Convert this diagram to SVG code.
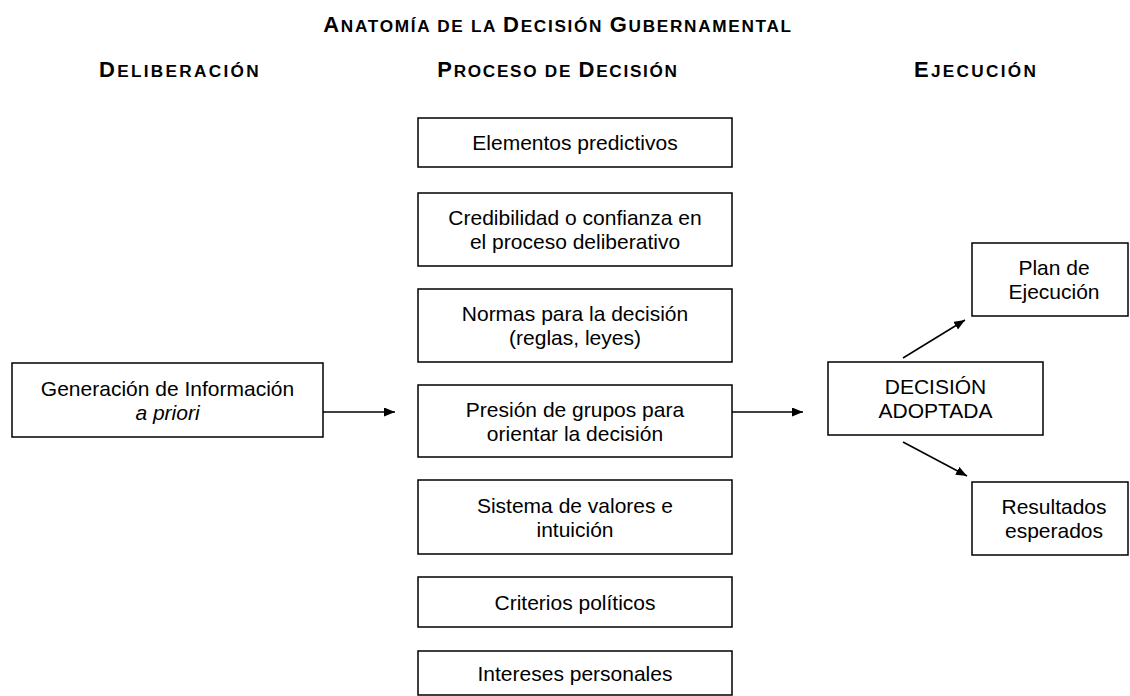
<svg xmlns="http://www.w3.org/2000/svg" width="1130" height="696" viewBox="0 0 1130 696">
<style>
.box{fill:#fff;stroke:#000;stroke-width:1.5}
.t{font-family:"Liberation Sans",Arial,sans-serif;font-size:21px;fill:#000;text-anchor:middle}
.h{font-family:"Liberation Sans",Arial,sans-serif;font-weight:bold;font-size:22px;fill:#000;text-anchor:middle}
.sc{font-size:17.2px}
.c{stroke:#000;stroke-width:1.5;fill:none}
</style>
<defs>
<marker id="ah" markerUnits="userSpaceOnUse" markerWidth="12" markerHeight="10" refX="11" refY="4.5" orient="auto">
<path d="M0,0 L11,4.5 L0,9 z" fill="#000"/>
</marker>
</defs>
<rect width="1130" height="696" fill="#fff"/>
<g id="titles">
<text class="h" x="558" y="32" letter-spacing="1.7">A<tspan class="sc">NATOMÍA DE LA </tspan>D<tspan class="sc">ECISIÓN </tspan>G<tspan class="sc">UBERNAMENTAL</tspan></text>
<text class="h" x="180" y="77" letter-spacing="2.3">D<tspan class="sc">ELIBERACIÓN</tspan></text>
<text class="h" x="558" y="77" letter-spacing="1.7">P<tspan class="sc">ROCESO DE </tspan>D<tspan class="sc">ECISIÓN</tspan></text>
<text class="h" x="976" y="77" letter-spacing="2.3">E<tspan class="sc">JECUCIÓN</tspan></text>
</g>
<g id="n-generacion">
<rect class="box" x="12" y="363" width="311" height="74"/>
<text class="t" x="167.5" y="395.5">Generación de Información</text>
<text class="t" x="167.5" y="419.5" font-style="italic">a priori</text>
</g>
<g id="n-elementos">
<rect class="box" x="418" y="118" width="314" height="49"/>
<text class="t" x="575" y="150">Elementos predictivos</text>
</g>
<g id="n-credibilidad">
<rect class="box" x="418" y="193" width="314" height="73"/>
<text class="t" x="575" y="225">Credibilidad o confianza en</text>
<text class="t" x="575" y="249">el proceso deliberativo</text>
</g>
<g id="n-normas">
<rect class="box" x="418" y="289" width="314" height="73"/>
<text class="t" x="575" y="321">Normas para la decisión</text>
<text class="t" x="575" y="345">(reglas, leyes)</text>
</g>
<g id="n-presion">
<rect class="box" x="418" y="385" width="314" height="72"/>
<text class="t" x="575" y="416.5">Presión de grupos para</text>
<text class="t" x="575" y="440.5">orientar la decisión</text>
</g>
<g id="n-sistema">
<rect class="box" x="418" y="480" width="314" height="74"/>
<text class="t" x="575" y="512.5">Sistema de valores e</text>
<text class="t" x="575" y="536.5">intuición</text>
</g>
<g id="n-criterios">
<rect class="box" x="418" y="577" width="314" height="50"/>
<text class="t" x="575" y="609.5">Criterios políticos</text>
</g>
<g id="n-intereses">
<rect class="box" x="418" y="651" width="314" height="44"/>
<text class="t" x="575" y="681">Intereses personales</text>
</g>
<g id="n-decision">
<rect class="box" x="828" y="362" width="215" height="73"/>
<text class="t" x="935.5" y="394">DECISIÓN</text>
<text class="t" x="935.5" y="418">ADOPTADA</text>
</g>
<g id="n-plan">
<rect class="box" x="972" y="243" width="156" height="73"/>
<text class="t" x="1054" y="275">Plan de</text>
<text class="t" x="1054" y="299">Ejecución</text>
</g>
<g id="n-resultados">
<rect class="box" x="972" y="482" width="156" height="73"/>
<text class="t" x="1054" y="514">Resultados</text>
<text class="t" x="1054" y="538">esperados</text>
</g>
<g id="connectors">
<line class="c" x1="323" y1="412" x2="395" y2="412" marker-end="url(#ah)"/>
<line class="c" x1="732" y1="412" x2="803" y2="412" marker-end="url(#ah)"/>
<line class="c" x1="903" y1="358" x2="965" y2="320" marker-end="url(#ah)"/>
<line class="c" x1="903" y1="442" x2="967" y2="476" marker-end="url(#ah)"/>
</g>
</svg>
